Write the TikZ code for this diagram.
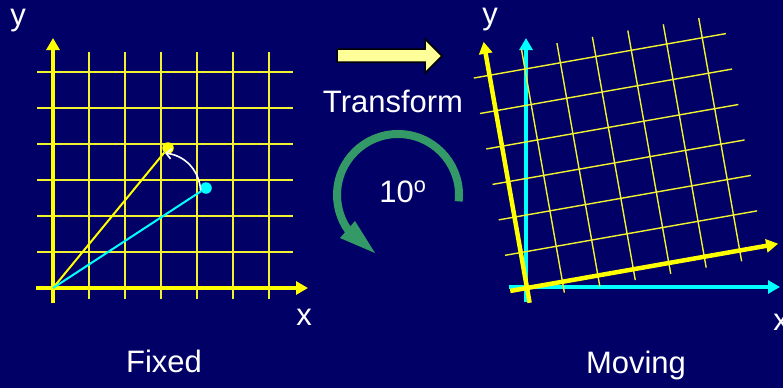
\documentclass[tikz,border=0pt]{standalone}
\usepackage{fontspec}
\setmainfont{Liberation Sans}
\usetikzlibrary{arrows.meta}
\definecolor{bgnavy}{HTML}{000066}
\definecolor{gridyel}{HTML}{F2F230}
\definecolor{axyel}{HTML}{FFFF00}
\definecolor{axcyan}{HTML}{00FFFF}
\definecolor{paleyel}{HTML}{FFFF99}
\definecolor{turngreen}{HTML}{339966}
\begin{document}
\begin{tikzpicture}[x=1pt,y=-1pt,
  gridline/.style={draw=gridyel, line width=1.4pt},
  yaxis/.style={draw=axyel, line width=4.5pt, -{Triangle[length=12pt,width=13pt]}},
  caxis/.style={draw=axcyan, line width=4.5pt, -{Triangle[length=12pt,width=13pt]}},
  lbl/.style={text=white, font=\fontsize{31}{31}\selectfont, inner sep=0pt, anchor=base},
  dot/.style={circle, inner sep=0pt, minimum size=11.5pt},
]
\useasboundingbox (0,0) rectangle (783,388);
\fill[bgnavy] (0,0) rectangle (783,388);

% ---------- left panel (fixed) ----------
\coordinate (O1) at (53,288);
\begin{scope}[shift={(53,288)}]
  \foreach \k in {1,...,6} {
    \draw[gridline] (36*\k,11) -- (36*\k,-236);
    \draw[gridline] (-16,-36*\k) -- (240,-36*\k);
  }
  \draw[yaxis] (-17,0) -- (255,0);
  \draw[yaxis] (0,15) -- (0,-250);
\end{scope}
\node[dot, fill=axyel] (ydot) at (168,148) {};
\node[dot, fill=axcyan] (cdot) at (206,188) {};
\draw[axyel, line width=2pt] (O1) -- (ydot);
\draw[axcyan, line width=2pt] (O1) -- (cdot);
\draw[white, line width=1.6pt, -{Straight Barb[length=5pt,width=10pt]}]
  (cdot.205) to[bend right=40] (ydot.240);

\node[lbl] (yl) at (18,25) {y};
\node[lbl] (xl) at (304,325) {x};
\node[lbl] (fixed) at (164,372) {Fixed};

% ---------- centre ----------
\draw[fill=paleyel, draw=black, line width=1.5pt, line join=miter]
  (337,49) -- (425,49) -- (425,39) -- (442,56) -- (425,73) -- (425,62) -- (337,62) -- cycle;
\node[lbl] (tr) at (393,112) {Transform};
\draw[turngreen, line width=8pt] (398,195) ++(6:61) arc[start angle=6, end angle=-216, radius=61];
\fill[turngreen] (340,238) -- (355,221) -- (375,253) -- cycle;
\node[lbl] (deg) at (403,202) {10\textsuperscript{o}};

% ---------- right panel (moving) ----------
\coordinate (O2) at (527,288);
\draw[caxis] (509,287) -- (780,287);
\draw[caxis] (526,302) -- (526,38);
\begin{scope}[shift={(527,288)}, rotate=10]
  \foreach \k in {1,...,6} {
    \draw[gridline] (36*\k,11) -- (36*\k,-236);
    \draw[gridline] (-16,-36*\k) -- (240,-36*\k);
  }
  \draw[yaxis] (-17,0) -- (255,0);
  \draw[yaxis] (0,15) -- (0,-250);
\end{scope}
\node[lbl] (yr) at (490,24) {y};
\node[lbl] (xr) at (781,330) {x};
\node[lbl] (moving) at (636,373) {Moving};
\end{tikzpicture}
\end{document}
